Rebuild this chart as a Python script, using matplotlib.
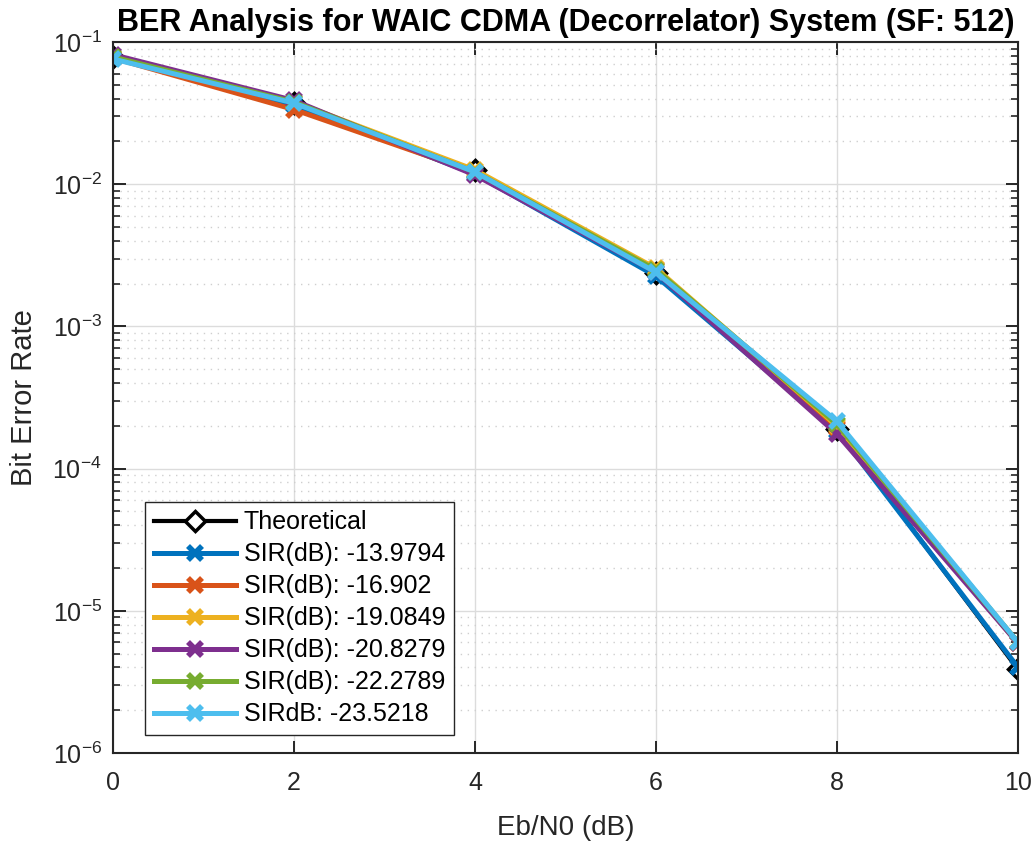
import matplotlib
matplotlib.use("Agg")
import matplotlib.pyplot as plt
from matplotlib.ticker import LogLocator, NullFormatter

plt.rcParams['font.family'] = ['Liberation Sans', 'DejaVu Sans']
plt.rcParams['mathtext.fontset'] = 'custom'
plt.rcParams['mathtext.rm'] = 'Liberation Sans'
plt.rcParams['mathtext.it'] = 'Liberation Sans:italic'
plt.rcParams['mathtext.bf'] = 'Liberation Sans:bold'
plt.rcParams['mathtext.default'] = 'regular'

ebn0 = [0, 2, 4, 6, 8, 10]
theoretical = [0.0786, 0.0375, 0.0125, 0.00239, 1.91e-4, 3.87e-6]
sir_labels = ['SIR(dB): -13.9794', 'SIR(dB): -16.902', 'SIR(dB): -19.0849',
              'SIR(dB): -20.8279', 'SIR(dB): -22.2789', 'SIRdB: -23.5218']
sir_ber = [
    [0.0775, 0.0362, 0.0118, 0.00226, 1.85e-4, 4.0e-6],
    [0.0772, 0.0335, 0.0121, 0.00252, 1.92e-4, 5.9e-6],
    [0.0780, 0.0380, 0.0126, 0.00256, 2.0e-4, 6.0e-6],
    [0.0815, 0.0388, 0.0116, 0.00240, 1.75e-4, 5.9e-6],
    [0.0785, 0.0378, 0.0122, 0.00250, 2.05e-4, 6.0e-6],
    [0.0760, 0.0372, 0.0122, 0.00240, 2.15e-4, 6.0e-6],
]
colors = ['#0072BD', '#D95319', '#EDB120', '#7E2F8E', '#77AC30', '#4DBEEE']

fig = plt.figure(figsize=(10.34, 8.44), dpi=100)
ax = fig.add_axes([0.1093, 0.1078, 0.8752, 0.8424])

ax.semilogy(ebn0, theoretical, color='black', lw=3, marker='D', ms=10,
            mfc='white', mec='black', mew=2.5, label='Theoretical')
for lab, vals, c in zip(sir_labels, sir_ber, colors):
    ax.semilogy(ebn0, vals, color=c, lw=3.6, marker='x', ms=10, mew=4, label=lab)

ax.set_xlim(0, 10)
ax.set_ylim(1e-6, 1e-1)
ax.set_xticks(ebn0)
ax.yaxis.set_major_locator(LogLocator(base=10, numticks=10))
ax.yaxis.set_minor_locator(LogLocator(base=10, subs=range(2, 10), numticks=100))
ax.yaxis.set_minor_formatter(NullFormatter())

ax.grid(True, which='major', color='#dcdcdc', lw=1)
ax.grid(True, which='minor', axis='y', color='#cfcfcf', lw=1, ls=(0, (1, 4)))
ax.set_axisbelow(True)
ax.tick_params(which='both', direction='in', top=True, right=True, colors='#262626',
               labelsize=18)
ax.tick_params(which='major', length=9, width=1.4)
ax.tick_params(which='minor', length=5, width=1.2)
ax.tick_params(axis='x', which='major', pad=13)
ax.tick_params(axis='y', which='major', pad=8)
for s in ax.spines.values():
    s.set_color('#262626')
    s.set_linewidth(1.5)

ax.set_xlabel('Eb/N0 (dB)', fontsize=20, color='#262626', labelpad=14)
ax.set_ylabel('Bit Error Rate', fontsize=21, color='#262626', labelpad=10)
ax.set_title('BER Analysis for WAIC CDMA (Decorrelator) System (SF: 512)',
             fontsize=22, fontweight='bold', pad=8)

leg = ax.legend(loc='lower left', bbox_to_anchor=(0.0354, 0.0253), fontsize=18,
                frameon=True, fancybox=False, edgecolor='#262626',
                handlelength=3.3, handletextpad=0.3, borderpad=0.35,
                labelspacing=0.32, framealpha=1, borderaxespad=0)
leg.get_frame().set_linewidth(1.0)

fig.savefig('out.png', dpi=100)
